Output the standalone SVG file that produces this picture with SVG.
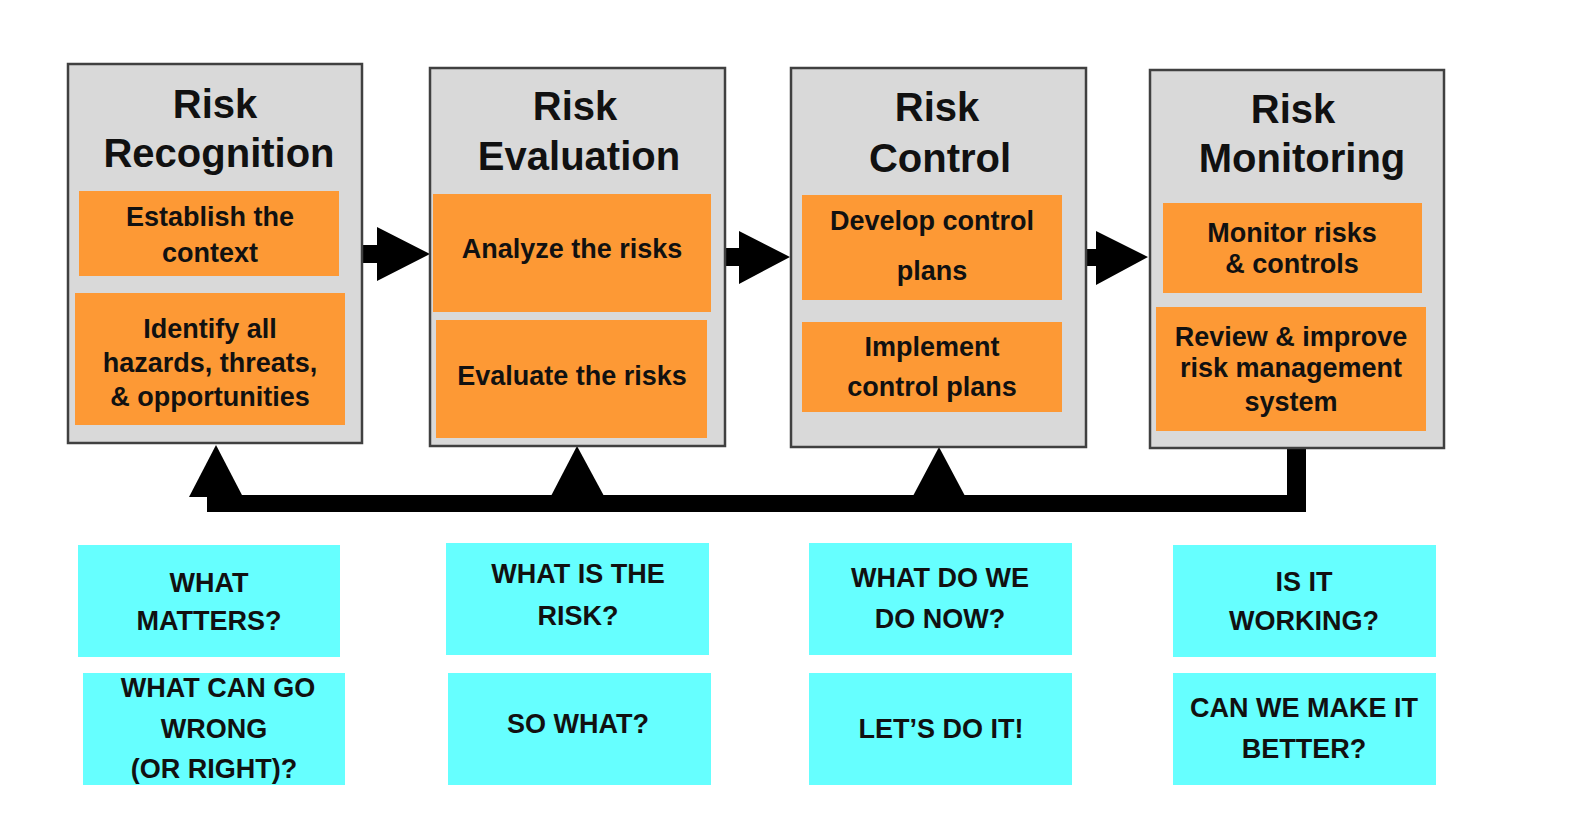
<svg xmlns="http://www.w3.org/2000/svg" width="1582" height="830" viewBox="0 0 1582 830">
<style>
.stage{fill:#d9d9d9;stroke:#404040;stroke-width:2.5}
.task{fill:#fd9935}
.q{fill:#66ffff}
.title{font-family:"Liberation Sans",Arial,sans-serif;font-weight:bold;font-size:40px;fill:#111;text-anchor:middle}
.t{font-family:"Liberation Sans",Arial,sans-serif;font-weight:bold;font-size:27px;fill:#111;text-anchor:middle}
.conn{fill:#000}
</style>
<rect width="1582" height="830" fill="#fff"/>

<g id="connectors">
  <polygon class="conn" points="363,245 377,245 377,227 430,254 377,281 377,263 363,263"/>
  <polygon class="conn" points="725,248 739,248 739,231 790,257 739,284 739,266 725,266"/>
  <polygon class="conn" points="1086,249 1096,249 1096,231 1148,257 1096,285 1096,266 1086,266"/>
  <path class="conn" d="M207,495 H1287 V448 H1306 V512 H207 Z"/>
  <polygon class="conn" points="216,445 189,497 243,497"/>
  <polygon class="conn" points="577,446 551,496 604,496"/>
  <polygon class="conn" points="939,447 913,496 965,496"/>
</g>

<g id="risk-recognition">
  <rect class="stage" x="68" y="64" width="294" height="379"/>
  <text class="title" x="215" y="118">Risk</text>
  <text class="title" x="219" y="167">Recognition</text>
  <rect class="task" x="79" y="191" width="260" height="85"/>
  <text class="t" x="210" y="226">Establish the</text>
  <text class="t" x="210" y="262">context</text>
  <rect class="task" x="75" y="293" width="270" height="132"/>
  <text class="t" x="210" y="338">Identify all</text>
  <text class="t" x="210" y="372">hazards, threats,</text>
  <text class="t" x="210" y="406">&amp; opportunities</text>
</g>

<g id="risk-evaluation">
  <rect class="stage" x="430" y="68" width="295" height="378"/>
  <text class="title" x="575" y="120">Risk</text>
  <text class="title" x="579" y="170">Evaluation</text>
  <rect class="task" x="433" y="194" width="278" height="118"/>
  <text class="t" x="572" y="258">Analyze the risks</text>
  <rect class="task" x="436" y="320" width="271" height="118"/>
  <text class="t" x="572" y="385">Evaluate the risks</text>
</g>

<g id="risk-control">
  <rect class="stage" x="791" y="68" width="295" height="379"/>
  <text class="title" x="937" y="121">Risk</text>
  <text class="title" x="940" y="172">Control</text>
  <rect class="task" x="802" y="195" width="260" height="105"/>
  <text class="t" x="932" y="230">Develop control</text>
  <text class="t" x="932" y="280">plans</text>
  <rect class="task" x="802" y="322" width="260" height="90"/>
  <text class="t" x="932" y="356">Implement</text>
  <text class="t" x="932" y="396">control plans</text>
</g>

<g id="risk-monitoring">
  <rect class="stage" x="1150" y="70" width="294" height="378"/>
  <text class="title" x="1293" y="123">Risk</text>
  <text class="title" x="1302" y="172">Monitoring</text>
  <rect class="task" x="1163" y="203" width="259" height="90"/>
  <text class="t" x="1292" y="242">Monitor risks</text>
  <text class="t" x="1292" y="273">&amp; controls</text>
  <rect class="task" x="1156" y="307" width="270" height="124"/>
  <text class="t" x="1291" y="346">Review &amp; improve</text>
  <text class="t" x="1291" y="377">risk management</text>
  <text class="t" x="1291" y="411">system</text>
</g>

<g id="q-what-matters">
  <rect class="q" x="78" y="545" width="262" height="112"/>
  <text class="t" x="209" y="592">WHAT</text>
  <text class="t" x="209" y="630">MATTERS?</text>
</g>
<g id="q-what-can-go-wrong">
  <rect class="q" x="83" y="673" width="262" height="112"/>
  <text class="t" x="218" y="697">WHAT CAN GO</text>
  <text class="t" x="214" y="738">WRONG</text>
  <text class="t" x="214" y="778">(OR RIGHT)?</text>
</g>
<g id="q-what-is-the-risk">
  <rect class="q" x="446" y="543" width="263" height="112"/>
  <text class="t" x="578" y="583">WHAT IS THE</text>
  <text class="t" x="578" y="625">RISK?</text>
</g>
<g id="q-so-what">
  <rect class="q" x="448" y="673" width="263" height="112"/>
  <text class="t" x="578" y="733">SO WHAT?</text>
</g>
<g id="q-what-do-we-do-now">
  <rect class="q" x="809" y="543" width="263" height="112"/>
  <text class="t" x="940" y="587">WHAT DO WE</text>
  <text class="t" x="940" y="628">DO NOW?</text>
</g>
<g id="q-lets-do-it">
  <rect class="q" x="809" y="673" width="263" height="112"/>
  <text class="t" x="941" y="738">LET’S DO IT!</text>
</g>
<g id="q-is-it-working">
  <rect class="q" x="1173" y="545" width="263" height="112"/>
  <text class="t" x="1304" y="591">IS IT</text>
  <text class="t" x="1304" y="630">WORKING?</text>
</g>
<g id="q-can-we-make-it-better">
  <rect class="q" x="1173" y="673" width="263" height="112"/>
  <text class="t" x="1304" y="717">CAN WE MAKE IT</text>
  <text class="t" x="1304" y="758">BETTER?</text>
</g>
</svg>
